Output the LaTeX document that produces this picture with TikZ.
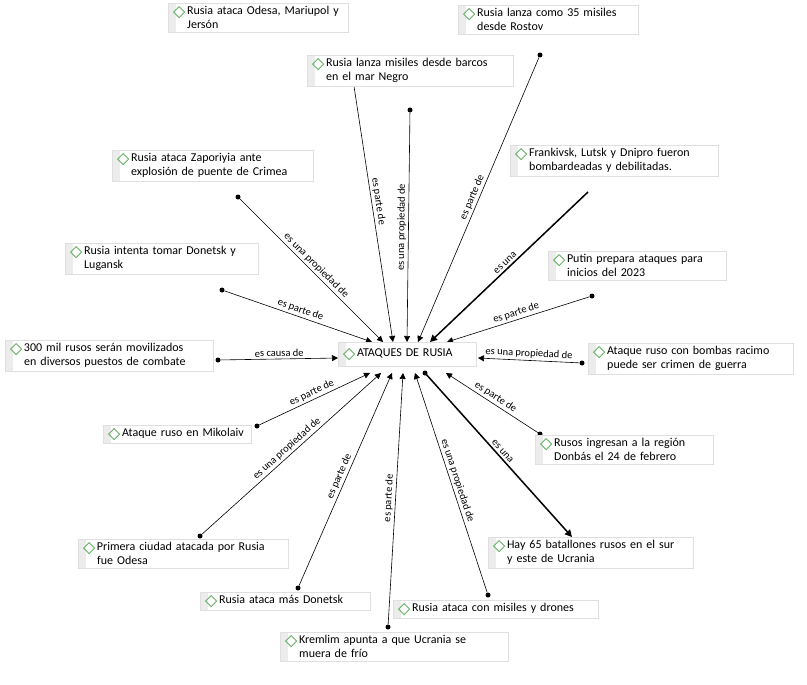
\documentclass[tikz,border=0pt]{standalone}
\usepackage{fontspec}
\setmainfont{Carlito}
\usetikzlibrary{arrows.meta,shapes.geometric,backgrounds}
\newcommand{\dia}{\tikz[baseline=-0.5ex]\draw[draw=green!50!black!60,line width=0.8pt] (0,0)--(5.5pt,5.5pt)--(11pt,0)--(5.5pt,-5.5pt)--cycle;\,}
\begin{document}
\begin{tikzpicture}[x=1pt,y=-1pt,
 box/.style={draw=gray!25,fill=white,anchor=north west,align=left,inner sep=3pt,inner xsep=5pt,
   font=\fontsize{12}{15}\selectfont,
   path picture={\fill[gray!15] (path picture bounding box.north west) rectangle ([xshift=8pt]path picture bounding box.south west);}},
 dot/.style={circle,fill=black,inner sep=0pt,minimum size=5pt},
 con/.style={-{Triangle[length=6pt,width=6pt]},line width=0.6pt},
 tk/.style={-{Triangle[length=7pt,width=7pt]},line width=1.5pt},
 lab/.style={font=\fontsize{10.5}{12}\selectfont,midway,sloped,above,inner sep=2pt}]
\useasboundingbox (0,0) rectangle (807,685);
\node[box,text width=170pt] (n1) at (168,3) {\mbox{\dia Rusia ataca Odesa, Mariupol y}\\[-1pt]\hspace*{14pt}Jersón};
\node[box,text width=196pt] (n2) at (307,55) {\dia Rusia lanza misiles desde barcos\\[-1pt]\hspace*{14pt}en el mar Negro};
\node[box,text width=170pt] (n3) at (458,5) {\dia Rusia lanza como 35 misiles\\[-1pt]\hspace*{14pt}desde Rostov};
\node[box,text width=191pt] (n4) at (112,150) {\dia Rusia ataca Zaporiyia ante\\[-1pt]\hspace*{14pt}explosión de puente de Crimea};
\node[box,text width=198pt] (n5) at (510,145) {\dia Frankivsk, Lutsk y Dnipro fueron\\[-1pt]\hspace*{14pt}bombardeadas y debilitadas.};
\node[box,text width=183pt] (n6) at (65,243) {\dia Rusia intenta tomar Donetsk y\\[-1pt]\hspace*{14pt}Lugansk};
\node[box,text width=168pt] (n7) at (548,251) {\dia Putin prepara ataques para\\[-1pt]\hspace*{14pt}inicios del 2023};
\node[box,text width=198pt] (n8) at (5,340) {\dia 300 mil rusos serán movilizados\\[-1pt]\hspace*{14pt}en diversos puestos de combate};
\node[box,text width=128pt,inner ysep=6pt] (c) at (338,342) {\dia ATAQUES DE RUSIA};
\node[box,text width=195pt] (n10) at (588,343) {\dia Ataque ruso con bombas racimo\\[-1pt]\hspace*{14pt}puede ser crimen de guerra};
\node[box,text width=138pt] (n11) at (103,425) {\mbox{\dia Ataque ruso en Mikolaiv}};
\node[box,text width=168pt] (n12) at (535,435) {\dia Rusos ingresan a la región\\[-1pt]\hspace*{14pt}Donbás el 24 de febrero};
\node[box,text width=200pt] (n13) at (78,539) {\dia Primera ciudad atacada por Rusia\\[-1pt]\hspace*{14pt}fue Odesa};
\node[box,text width=195pt] (n14) at (488,537) {\dia Hay 65 batallones rusos en el sur\\[-1pt]\hspace*{14pt}y este de Ucrania};
\node[box,text width=160pt] (n15) at (200,592) {\dia Rusia ataca más Donetsk};
\node[box,text width=195pt] (n16) at (393,600) {\dia Rusia ataca con misiles y drones};
\node[box,text width=218pt] (n17) at (280,632) {\dia Kremlim apunta a que Ucrania se\\[-1pt]\hspace*{14pt}muera de frío};
\begin{scope}[on background layer]
\node[dot] (d1) at (350,60) {};
\node[dot] (d2) at (410,110) {};
\node[dot] (d3) at (540,55) {};
\node[dot] (d4) at (238,197) {};
\coordinate (d5) at (588,192);
\node[dot] (d6) at (222,290) {};
\node[dot] (d7) at (592,296) {};
\node[dot] (d8) at (218,360) {};
\node[dot] (d10) at (582,363) {};
\node[dot] (d11) at (257,426) {};
\node[dot] (d12) at (540,434) {};
\node[dot] (d13) at (200,536) {};
\coordinate (d14) at (572,537);
\node[dot] (d15) at (298,588) {};
\node[dot] (d16) at (488,595) {};
\node[dot] (d17) at (388,627) {};
\coordinate (t1) at (393,342); \coordinate (t2) at (407,342); \coordinate (t3) at (418,342);
\coordinate (t4) at (383,342); \coordinate (t5) at (430,342); \coordinate (t6) at (372,342);
\coordinate (t7) at (447,342); \coordinate (t8) at (338,358); \coordinate (t10) at (478,358);
\coordinate (t11) at (370,373); \coordinate (t12) at (446,373); \coordinate (t13) at (381,373);
\coordinate (t14) at (425,373); \coordinate (t15) at (392,373); \coordinate (t16) at (415,373);
\coordinate (t17) at (403,373);
\draw[con] (d1) -- node[lab] {es parte de} (t1);
\draw[con] (d2) -- node[lab] {es una propiedad de} (t2);
\draw[con] (d3) -- node[lab] {es parte de} (t3);
\draw[con] (d4) -- node[lab] {es una propiedad de} (t4);
\draw[tk] (d5) -- node[lab] {es una} (t5);
\draw[con] (d6) -- node[lab] {es parte de} (t6);
\draw[con] (d7) -- node[lab] {es parte de} (t7);
\draw[con] (d8) -- node[lab] {es causa de} (t8);
\draw[con] (d10) -- node[lab] {es una propiedad de} (t10);
\draw[con] (d11) -- node[lab] {es parte de} (t11);
\draw[con] (d12) -- node[lab] {es parte de} (t12);
\draw[con] (d13) -- node[lab] {es una propiedad de} (t13);
\node[dot] at (t14) {};
\draw[tk] (t14) -- node[lab] {es una} (d14);
\draw[con] (d15) -- node[lab] {es parte de} (t15);
\draw[con] (d16) -- node[lab] {es una propiedad de} (t16);
\draw[con] (d17) -- node[lab] {es parte de} (t17);
\end{scope}
\end{tikzpicture}
\end{document}
